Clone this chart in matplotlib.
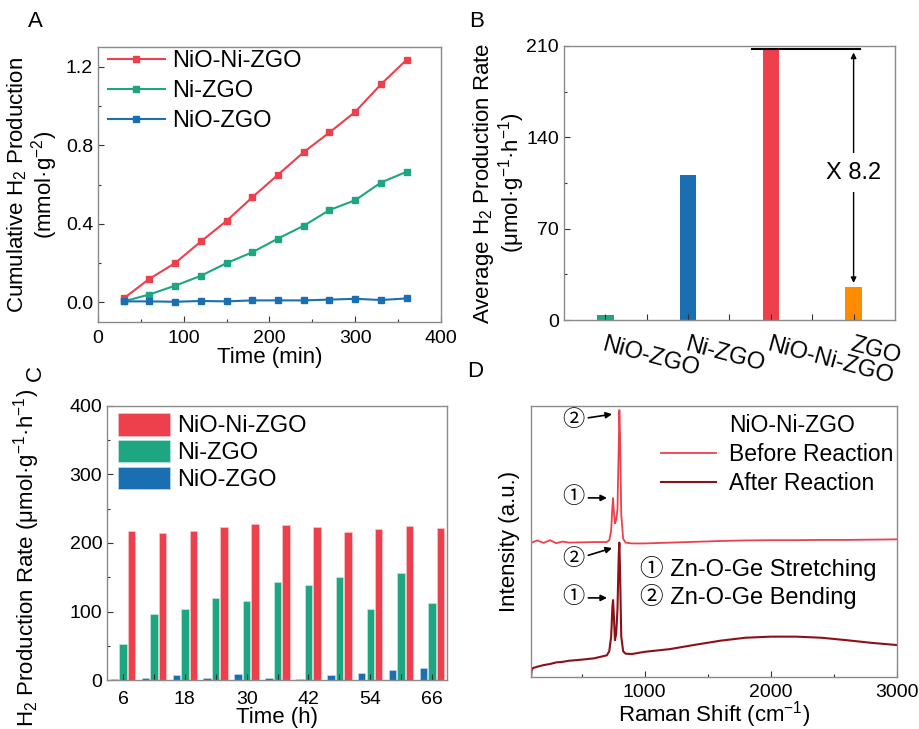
import matplotlib
matplotlib.use("Agg")
import matplotlib.pyplot as plt
from matplotlib.lines import Line2D
from matplotlib.ticker import MultipleLocator

plt.rcParams['font.family'] = ['Liberation Sans', 'Noto Sans CJK SC', 'DejaVu Sans']
plt.rcParams['mathtext.fontset'] = 'custom'
plt.rcParams['mathtext.rm'] = 'Liberation Sans'
plt.rcParams['mathtext.it'] = 'Liberation Sans:italic'
plt.rcParams['mathtext.default'] = 'regular'

RED = '#EE3F4D'
GREEN = '#1DA681'
BLUE = '#1A6FB3'
ORANGE = '#FF8B00'
DARKRED = '#8C1016'
SPINE = '#8a8a8a'

# --- Panel A: cumulative H2 production ---
time_min = [30, 60, 90, 120, 150, 180, 210, 240, 270, 300, 330, 360]
cum_nio_ni_zgo = [0.02, 0.12, 0.20, 0.31, 0.415, 0.535, 0.65, 0.765, 0.865, 0.97, 1.11, 1.235]
cum_ni_zgo = [0.005, 0.04, 0.085, 0.135, 0.20, 0.255, 0.325, 0.39, 0.47, 0.52, 0.61, 0.665]
cum_nio_zgo = [0.005, 0.005, 0.003, 0.007, 0.005, 0.01, 0.01, 0.01, 0.014, 0.018, 0.012, 0.02]

# --- Panel B: average rates ---
samples = ['NiO-ZGO', 'Ni-ZGO', 'NiO-Ni-ZGO', 'ZGO']
avg_rate = [3.8, 111, 208, 25.4]
bar_colors = [GREEN, BLUE, RED, ORANGE]

# --- Panel C: cycling rates ---
time_h = [6, 12, 18, 24, 30, 36, 42, 48, 54, 60, 66]
rate_nio_ni_zgo = [217, 214, 218, 223, 227, 226, 224, 216, 220, 225, 222]
rate_ni_zgo = [52, 97, 103, 120, 116, 143, 138, 150, 104, 156, 112]
rate_nio_zgo = [1.5, 2.5, 7, 3, 9, 2.5, 1, 7, 10, 14, 18]

# --- Panel D: Raman spectra ---
raman_before_x = [105, 150, 200, 250, 300, 350, 400, 500, 600, 700, 720, 735, 745, 750, 755,
                  765, 775, 785, 795, 800, 805, 815, 830, 850, 900, 1000, 1200, 1400, 1600,
                  1800, 2000, 2200, 2400, 2600, 2800, 3000]
raman_before = [49.6, 50.4, 49.5, 50.5, 49.4, 50.0, 49.6, 49.7, 49.8, 49.8, 50.5, 54, 63, 66, 62,
                56.7, 58, 62, 85, 98.5, 90, 60, 51, 49.6, 49.3, 49.3, 49.6, 49.9, 50.2,
                50.4, 50.5, 50.5, 50.6, 50.6, 50.7, 50.8]
raman_after_x = [100, 105, 115, 150, 200, 250, 300, 350, 400, 500, 600, 700, 720, 735, 745, 750,
                 755, 765, 775, 785, 795, 800, 805, 815, 830, 850, 900, 1000, 1200, 1400, 1600,
                 1800, 2000, 2200, 2400, 2600, 2800, 3000]
raman_after = [0, 2.5, 3.3, 3.8, 4.4, 4.8, 5.4, 5.6, 6.0, 6.4, 6.9, 8.0, 9.5, 15, 26, 28.4,
               24, 13.6, 16, 25, 45, 49.6, 40, 15, 9.5, 8.6, 8.5, 9.3, 10.3, 11.9, 13.4,
               14.5, 14.9, 14.9, 14.5, 13.6, 12.6, 11.8]

TICK_FS = 14
LABEL_FS = 16
LEG_FS = 17


def style_axes(ax):
    for s in ax.spines.values():
        s.set_color(SPINE)
        s.set_linewidth(1.0)
    ax.tick_params(which='both', direction='in', colors='#333333', labelcolor='black',
                   labelsize=TICK_FS, top=False, right=False)
    ax.tick_params(which='major', length=4, width=0.8)
    ax.tick_params(which='minor', length=2.5, width=0.8)
    ax.tick_params(axis='x', pad=6)


fig = plt.figure(figsize=(9.2, 7.29), dpi=100)

# Panel A
axA = fig.add_axes([0.1065, 0.5583, 0.3728, 0.3772])
axA.plot(time_min, cum_nio_ni_zgo, '-s', color=RED, lw=1.5, ms=4.5, label='NiO-Ni-ZGO')
axA.plot(time_min, cum_ni_zgo, '-s', color=GREEN, lw=1.5, ms=4.5, label='Ni-ZGO')
axA.plot(time_min, cum_nio_zgo, '-s', color=BLUE, lw=1.5, ms=4.5, label='NiO-ZGO')
axA.set_xlim(0, 400)
axA.set_ylim(-0.1, 1.3)
axA.xaxis.set_major_locator(MultipleLocator(100))
axA.xaxis.set_minor_locator(MultipleLocator(50))
axA.yaxis.set_major_locator(MultipleLocator(0.4))
axA.yaxis.set_minor_locator(MultipleLocator(0.2))
style_axes(axA)
axA.set_xlabel('Time (min)', fontsize=LABEL_FS, labelpad=0)
axA.set_ylabel('Cumulative H$_2$ Production\n(mmol·g$^{-2}$)', fontsize=LABEL_FS,
               linespacing=1.0)
axA.yaxis.set_label_coords(-0.11, 0.5)
axA.legend(loc='upper left', bbox_to_anchor=(0.029, 0.988), frameon=False, fontsize=LEG_FS,
           handlelength=2.4, handletextpad=0.3, labelspacing=0.33, borderpad=0,
           borderaxespad=0)

# Panel B
axB = fig.add_axes([0.6130, 0.5610, 0.3598, 0.3759])
pos = list(range(1, len(samples) + 1))
axB.bar(pos, avg_rate, width=0.2, color=bar_colors, zorder=1)
axB.set_xlim(0.5, 4.5)
axB.set_ylim(0, 210)
axB.set_yticks([0, 70, 140, 210])
axB.yaxis.set_minor_locator(MultipleLocator(35))
axB.set_xticks(pos)
axB.set_xticks([1.5, 2.5, 3.5], minor=True)
style_axes(axB)
axB.tick_params(axis='x', which='minor', length=4)
axB.set_xticklabels(samples, rotation=-15, ha='left', va='top', rotation_mode='anchor',
                    fontsize=LEG_FS)
axB.tick_params(axis='x', pad=10)
axB.set_ylabel('Average H$_2$ Production Rate\n(μmol·g$^{-1}$·h$^{-1}$)', fontsize=LABEL_FS,
               linespacing=1.0)
axB.yaxis.set_label_coords(-0.112, 0.5)
top = avg_rate[2]
axB.plot([2.77, 4.08], [top, top], color='black', lw=1.5)
axB.annotate('', xy=(pos[3], top - 3), xytext=(pos[3], avg_rate[3] + 3),
             arrowprops=dict(arrowstyle='<|-|>', color='black', lw=1.0,
                             mutation_scale=8, shrinkA=0, shrinkB=0))
axB.text(pos[3], 113, 'X 8.2', fontsize=LEG_FS, ha='center', va='center',
         bbox=dict(facecolor='white', edgecolor='none', pad=6))

# Panel C
axC = fig.add_axes([0.1163, 0.0672, 0.3696, 0.3759])
w = 1.45
off = 1.65
axC.bar([t + off for t in time_h], rate_nio_ni_zgo, width=w, color=RED,
        edgecolor='#f6d0d3', lw=0.4, label='NiO-Ni-ZGO')
axC.bar(time_h, rate_ni_zgo, width=w, color=GREEN, edgecolor='#cdeee3', lw=0.4,
        label='Ni-ZGO')
axC.bar([t - off for t in time_h], rate_nio_zgo, width=w, color=BLUE, edgecolor='#cfe0f0',
        lw=0.4, label='NiO-ZGO')
axC.set_xlim(2.9, 68.9)
axC.set_ylim(0, 400)
axC.set_xticks([6, 18, 30, 42, 54, 66])
axC.set_xticks([12, 24, 36, 48, 60], minor=True)
axC.yaxis.set_major_locator(MultipleLocator(100))
axC.yaxis.set_minor_locator(MultipleLocator(50))
style_axes(axC)
axC.tick_params(axis='x', which='minor', length=4)
axC.tick_params(axis='x', pad=8)
axC.set_xlabel('Time (h)', fontsize=LABEL_FS, labelpad=-1)
axC.set_ylabel('H$_2$ Production Rate (μmol·g$^{-1}$·h$^{-1}$)', fontsize=LABEL_FS)
axC.yaxis.set_label_coords(-0.19, 0.445)
axC.legend(loc='upper left', bbox_to_anchor=(0.032, 0.974), frameon=False, fontsize=LEG_FS,
           handlelength=2.2, handleheight=1.1, handletextpad=0.3, labelspacing=0.1,
           borderpad=0, borderaxespad=0)

# Panel D
axD = fig.add_axes([0.5772, 0.0713, 0.3978, 0.3717])
axD.plot(raman_before_x, raman_before, color=RED, lw=1.3, label='Before Reaction')
axD.plot(raman_after_x, raman_after, color=DARKRED, lw=1.5, label='After Reaction')
axD.set_xlim(100, 3000)
axD.set_ylim(0, 100)
axD.set_xticks([1000, 2000, 3000])
axD.set_xticks([500, 1500, 2500], minor=True)
axD.set_yticks([])
style_axes(axD)
axD.tick_params(axis='x', pad=5)
axD.set_xlabel('Raman Shift (cm$^{-1}$)', fontsize=LABEL_FS, labelpad=-1)
axD.set_ylabel('Intensity (a.u.)', fontsize=LABEL_FS)
axD.yaxis.set_label_coords(-0.03, 0.5)
handles = [Line2D([], [], color='none', label='NiO-Ni-ZGO')] + axD.get_legend_handles_labels()[0]
axD.legend(handles=handles, loc='upper right', bbox_to_anchor=(0.99, 0.97), frameon=False,
           fontsize=16.5, handlelength=2.4, handletextpad=0.55, labelspacing=0.26,
           borderpad=0, borderaxespad=0)

arrow = dict(arrowstyle='-|>', color='black', lw=1.2, mutation_scale=9, shrinkA=1, shrinkB=0)
peak_notes = [('②', (433, 94.8), (742, 97.0)),
              ('①', (433, 66.1), (702, 66.1)),
              ('②', (433, 43.2), (742, 47.6)),
              ('①', (433, 29.2), (702, 29.2))]
for lab, txy, hxy in peak_notes:
    axD.annotate(lab, xy=hxy, xytext=txy, fontsize=16, ha='center', va='center',
                 arrowprops=arrow)
axD.text(964, 40.2, '① Zn-O-Ge Stretching', fontsize=LEG_FS, ha='left', va='center')
axD.text(964, 29.9, '② Zn-O-Ge Bending', fontsize=LEG_FS, ha='left', va='center')

# panel letters
fig.text(0.038, 0.970, 'A', fontsize=16, ha='center', va='center')
fig.text(0.518, 0.971, 'B', fontsize=16, ha='center', va='center')
fig.text(0.038, 0.488, 'C', fontsize=16, ha='center', va='center', rotation=90)
fig.text(0.517, 0.490, 'D', fontsize=16, ha='center', va='center')

fig.savefig('out.png', dpi=100)
